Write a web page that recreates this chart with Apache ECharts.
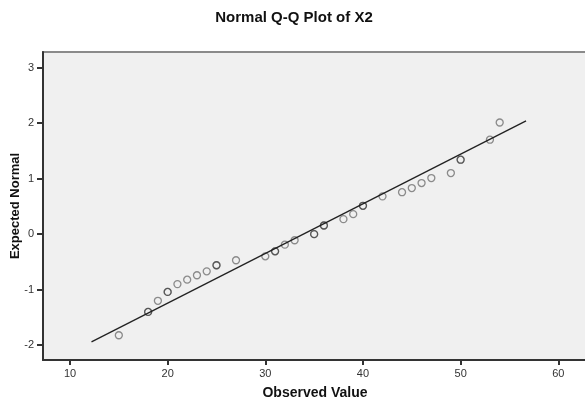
<!DOCTYPE html>
<html>
<head>
<meta charset="utf-8">
<script src="https://cdn.jsdelivr.net/npm/echarts@6/dist/echarts.min.js"></script>
<style>html,body{margin:0;padding:0;background:#fff;}#c{width:585px;height:400px;}</style>
</head>
<body>
<div id="c"></div>
<script>
// Observed values (duplicates repeated: they overlap and look darker)
var observed = [15, 18, 18, 19, 20, 20, 21, 22, 23, 24, 25, 25, 27, 30, 31, 31, 32, 33, 35, 35, 36, 36, 38, 39, 40, 40, 42, 44, 45, 46, 47, 49, 50, 50, 53, 54];
var expected = [-1.82, -1.40, -1.40, -1.20, -1.04, -1.04, -0.90, -0.82, -0.74, -0.67, -0.56, -0.56, -0.47, -0.40, -0.31, -0.31, -0.19, -0.11, 0.0, 0.0, 0.155, 0.155, 0.27, 0.36, 0.51, 0.51, 0.68, 0.755, 0.83, 0.92, 1.01, 1.10, 1.34, 1.34, 1.70, 2.01];
// Reference line end points
var lineX = [12.2, 56.7];
var lineY = [-1.94, 2.04];
var xTicks = [10, 20, 30, 40, 50, 60];
var yTicks = [-2, -1, 0, 1, 2, 3];

var pts = observed.map(function (v, i) { return [v, expected[i]]; });
var linePts = lineX.map(function (v, i) { return [v, lineY[i]]; });

var chart = echarts.init(document.getElementById('c'), null, {renderer: 'canvas'});
var font = 'Arial, "Liberation Sans", sans-serif';
chart.setOption({
  animation: false,
  backgroundColor: '#ffffff',
  title: {
    text: 'Normal Q-Q Plot of X2',
    left: 289, top: 5, textAlign: 'center',
    textStyle: {fontFamily: font, fontSize: 15, fontWeight: 'bold', color: '#111'}
  },
  grid: {
    left: 43, top: 52, right: -2, bottom: 40,
    outerBoundsMode: 'none', containLabel: false,
    show: true, backgroundColor: '#f0f0f0', borderColor: '#8a8a8a', borderWidth: 2
  },
  xAxis: {
    type: 'value', min: 7.235, max: 62.94,
    name: 'Observed Value', nameLocation: 'middle', nameGap: 26, nameMoveOverlap: false,
    nameTextStyle: {fontFamily: font, fontSize: 14, fontWeight: 'bold', color: '#111'},
    axisLine: {show: true, onZero: false, lineStyle: {color: '#333', width: 2}},
    axisTick: {show: true, length: 5, customValues: xTicks, lineStyle: {color: '#333', width: 2}},
    axisLabel: {customValues: xTicks, fontFamily: font, fontSize: 11, color: '#333', margin: 8},
    splitLine: {show: false}
  },
  yAxis: {
    type: 'value', min: -2.266, max: 3.279,
    name: 'Expected Normal', nameLocation: 'middle', nameGap: 21, nameRotate: 90, nameMoveOverlap: false,
    nameTextStyle: {fontFamily: font, fontSize: 13, fontWeight: 'bold', color: '#111'},
    axisLine: {show: true, onZero: false, lineStyle: {color: '#333', width: 2}},
    axisTick: {show: true, length: 6, customValues: yTicks, lineStyle: {color: '#333', width: 2}},
    axisLabel: {customValues: yTicks, fontFamily: font, fontSize: 11, color: '#333', margin: 9},
    splitLine: {show: false}
  },
  series: [
    {
      type: 'line', data: linePts, symbol: 'none', silent: true,
      lineStyle: {color: '#222', width: 1.3}, z: 2
    },
    {
      type: 'scatter', data: pts, symbol: 'circle', symbolSize: 7,
      itemStyle: {color: 'rgba(0,0,0,0)', borderColor: 'rgba(30,30,30,0.6)', borderWidth: 1.3},
      z: 3
    }
  ]
});
</script>
</body>
</html>
